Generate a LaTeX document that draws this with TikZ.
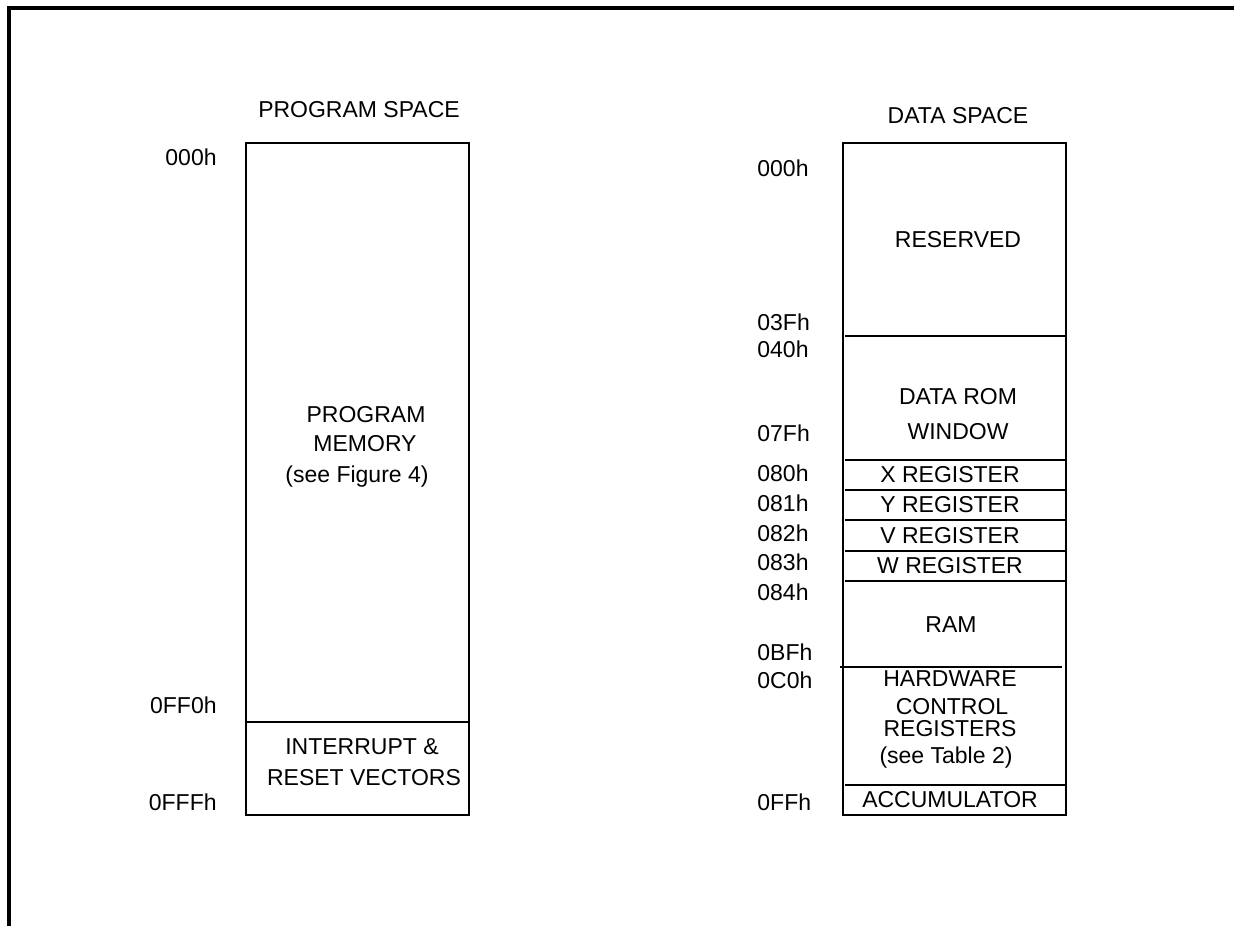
\documentclass[tikz,border=0pt]{standalone}
\usepackage{fontspec}
\setmainfont{Liberation Sans}
\usetikzlibrary{positioning}

\begin{document}
\begin{tikzpicture}[x=0.5pt, y=-0.5pt,
    every node/.style={font=\fontsize{11.5}{13.8}\selectfont, inner sep=0pt},
    addr/.style={anchor=west},
    addrleft/.style={anchor=east},
    memline/.style={line width=0.8pt}]
    \useasboundingbox (0,0) rectangle (1234,926);

    \coordinate (PS) at (246,143);
    \coordinate (PE) at (469,815);
    \coordinate (DS) at (843,143);
    \coordinate (DE) at (1066,815);

    % frame
    \draw[line width=1.6pt] (9,926) -- (9,8) -- (1234,8);

    % program space
    \node (ptitle) at (359,110) {PROGRAM SPACE};
    \draw[memline] (PS) rectangle (PE);
    \draw[memline] (246,722) -- (469,722);

    \foreach \y/\t in {157/000h, 705/0FF0h, 802/0FFFh}
    {
        \node[addrleft] (p\t) at (217,\y) {\t};
    }

    \foreach \x/\y/\t/\n in {366/415/PROGRAM/pm1, 365/444/MEMORY/pm2,
                             357/477/(see Figure 4)/pm3,
                             362/747/INTERRUPT \&/iv1, 364/778/RESET VECTORS/iv2}
    {
        \node (\n) at (\x,\y) {\t};
    }

    % data space
    \node (dtitle) at (958,116) {DATA SPACE};
    \draw[memline] (DS) rectangle (DE);
    \foreach \y in {336,460,490,520,551,581,785}
    {
        \draw[memline] (845,\y) -- (1066,\y);
    }
    \draw[memline] (840,667) -- (1062,667);

    \foreach \y/\t in {
        168/000h, 322/03Fh, 349/040h, 433/07Fh,
        473/080h, 503/081h, 533/082h, 562/083h,
        592/084h, 652/0BFh, 680/0C0h, 802/0FFh}
    {
        \node[addr] (d\t) at (757,\y) {\t};
    }

    \foreach \x/\y/\t/\n in {
        958/240/RESERVED/resv,
        958/397/DATA ROM/rom1, 958/432/WINDOW/rom2,
        950/475/X REGISTER/xreg, 950/505/Y REGISTER/yreg,
        950/536/V REGISTER/vreg, 950/566/W REGISTER/wreg,
        951/625/RAM/ram,
        950/679/HARDWARE/hw1, 952/707/CONTROL/hw2,
        950/729/REGISTERS/hw3, 946/758/(see Table 2)/hw4,
        950/800/ACCUMULATOR/acc}
    {
        \node (\n) at (\x,\y) {\t};
    }
\end{tikzpicture}
\end{document}
